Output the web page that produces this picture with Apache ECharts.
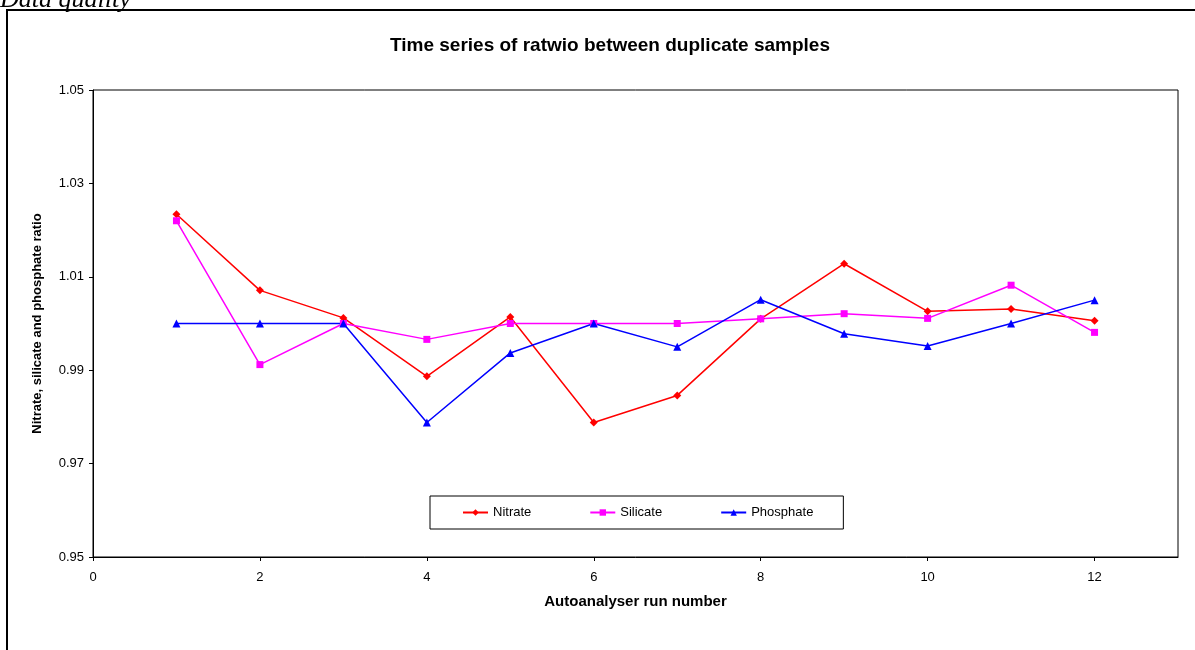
<!DOCTYPE html>
<html>
<head>
<meta charset="utf-8">
<script src="https://cdn.jsdelivr.net/npm/echarts@6/dist/echarts.min.js"></script>
<style>html,body{margin:0;padding:0;background:#fff;}#c{width:1195px;height:650px;}</style>
</head>
<body>
<div id="c"></div>
<script>
const runs = [1, 2, 3, 4, 5, 6, 7, 8, 9, 10, 11, 12];
const nitrate   = [1.0234, 1.0071, 1.0012, 0.9887, 1.0014, 0.9788, 0.9846, 1.0010, 1.0128, 1.0026, 1.0031, 1.0006];
const silicate  = [1.0220, 0.9912, 1.0000, 0.9966, 1.0000, 1.0000, 1.0000, 1.0010, 1.0021, 1.0011, 1.0082, 0.9981];
const phosphate = [1.0000, 1.0000, 1.0000, 0.9788, 0.9937, 1.0000, 0.9950, 1.0051, 0.9978, 0.9952, 1.0000, 1.0050];
const xTicks = [0, 2, 4, 6, 8, 10, 12];
const yTicks = [0.95, 0.97, 0.99, 1.01, 1.03, 1.05];

const pair = arr => runs.map((r, i) => [r, arr[i]]);
const font = 'Arial, "Liberation Sans", sans-serif';
const chart = echarts.init(document.getElementById('c'));
chart.setOption({
  animation: false,
  backgroundColor: '#fff',
  title: {
    text: 'Time series of ratwio between duplicate samples',
    left: 605, top: 31, textAlign: 'center',
    textStyle: { fontFamily: font, fontSize: 19, fontWeight: 'bold', color: '#000' }
  },
  graphic: [
    { type: 'rect', shape: { x: 7, y: 10, width: 1300, height: 700 }, style: { fill: 'none', stroke: '#000', lineWidth: 2 }, silent: true },
    { type: 'text', left: 0, top: -13, style: { text: 'Data quality', font: 'italic 26px "Liberation Serif", "Times New Roman", serif', fill: '#000' } }
  ],
  legend: {
    left: 430, top: 496, width: 412, height: 35,
    itemGap: 58, padding: [10, 30, 10, 32],
    itemWidth: 25, itemHeight: 8,
    borderColor: '#000', borderWidth: 1,
    textStyle: { fontFamily: font, fontSize: 13, color: '#000' },
    data: ['Nitrate', 'Silicate', 'Phosphate']
  },
  grid: { left: 93, top: 90, right: 17, bottom: 93, show: true, borderColor: '#000', borderWidth: 1 },
  xAxis: {
    type: 'value', min: 0, max: 13, interval: 2,
    name: 'Autoanalyser run number', nameLocation: 'middle', nameGap: 37,
    nameTextStyle: { fontFamily: font, fontSize: 15, fontWeight: 'bold', color: '#000' },
    axisLine: { lineStyle: { color: '#000', width: 1 } },
    axisTick: { show: true, length: 4, lineStyle: { color: '#000' }, customValues: xTicks },
    axisLabel: { fontFamily: font, fontSize: 13, color: '#000', margin: 14, customValues: xTicks },
    splitLine: { show: false }
  },
  yAxis: {
    type: 'value', min: 0.95, max: 1.05, interval: 0.02,
    name: 'Nitrate, silicate and phosphate ratio', nameLocation: 'middle', nameGap: 49,
    nameTextStyle: { fontFamily: font, fontSize: 13, fontWeight: 'bold', color: '#000' },
    axisLine: { lineStyle: { color: '#000', width: 1 } },
    axisTick: { show: true, length: 4, lineStyle: { color: '#000' }, customValues: yTicks },
    axisLabel: { fontFamily: font, fontSize: 13, color: '#000', margin: 9, customValues: yTicks, formatter: v => (+v).toFixed(2) },
    splitLine: { show: false }
  },
  series: [
    { name: 'Nitrate', type: 'line', data: pair(nitrate), symbol: 'diamond', symbolSize: 8,
      lineStyle: { color: '#FF0000', width: 1.5 }, itemStyle: { color: '#FF0000' } },
    { name: 'Silicate', type: 'line', data: pair(silicate), symbol: 'rect', symbolSize: 7,
      lineStyle: { color: '#FF00FF', width: 1.5 }, itemStyle: { color: '#FF00FF' } },
    { name: 'Phosphate', type: 'line', data: pair(phosphate), symbol: 'triangle', symbolSize: 8,
      lineStyle: { color: '#0000FF', width: 1.5 }, itemStyle: { color: '#0000FF' } }
  ]
});
</script>
</body>
</html>
